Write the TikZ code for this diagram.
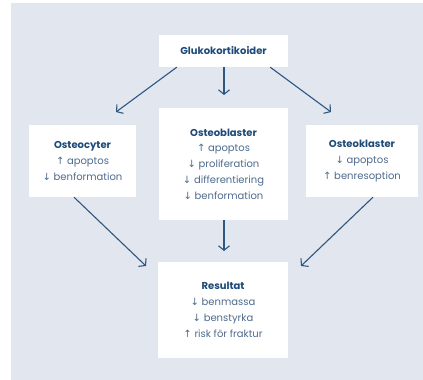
\documentclass[tikz,border=0pt]{standalone}
\usepackage{fontspec}
\setmainfont{Poppins}
\newfontfamily\symfont{DejaVu Sans}
\usetikzlibrary{arrows.meta}
\definecolor{bgc}{HTML}{E2E6EF}
\definecolor{navy}{HTML}{1D4A78}
\definecolor{bodyc}{HTML}{4F6B8E}
\definecolor{arrc}{HTML}{2D5682}
\newcommand{\upa}{{\symfont\char"2191}}
\newcommand{\dna}{{\symfont\char"2193}}
\tikzset{
  box/.style={fill=white, draw=none, inner sep=0pt, align=center, font=\fontsize{10}{15.8}\selectfont, text=bodyc},
  conn/.style={draw=arrc, line width=1.1pt, -{Straight Barb[length=4.5pt,width=11pt,line width=1.1pt]}}
}
\newcommand{\ttl}[1]{{\bfseries\color{navy}#1}}
\begin{document}
\begin{tikzpicture}[x=1pt,y=-1pt]
\useasboundingbox (0,0) rectangle (423,380);
\fill[white] (0,0) rectangle (423,380);
\fill[bgc] (11,3) rectangle (423,380);

\node[box, minimum width=129pt, minimum height=32pt] (G) at (223.5,51) {\ttl{Glukokortikoider}};
\node[box, minimum width=107pt, minimum height=72pt] (OC) at (82.5,161) {\ttl{Osteocyter}\\\upa\ apoptos\\\dna\ benformation};
\node[box, minimum width=129pt, minimum height=112pt] (OB) at (223.5,164) {\ttl{Osteoblaster}\\\upa\ apoptos\\\dna\ proliferation\\\dna\ differentiering\\\dna\ benformation};
\node[box, minimum width=112pt, minimum height=72pt] (OK) at (362,161) {\ttl{Osteoklaster}\\\dna\ apoptos\\\upa\ benresoption};
\node[box, minimum width=130pt, minimum height=96pt] (R) at (223,310) {\ttl{Resultat}\\\dna\ benmassa\\\dna\ benstyrka\\\upa\ risk för fraktur};

\coordinate (t1) at (116,112);
\coordinate (t2) at (224,95);
\coordinate (t3) at (331,112);
\coordinate (t4) at (146,266);
\coordinate (t5) at (224,251);
\coordinate (t6) at (301,266);

\draw[conn] ([xshift=18pt]G.south west) -- (t1);
\draw[conn] ([xshift=0.5pt]G.south) -- (t2);
\draw[conn] ([xshift=-18pt]G.south east) -- (t3);
\draw[conn] ([xshift=-8.5pt]OC.south) -- (t4);
\draw[conn] ([xshift=0.5pt]OB.south) -- (t5);
\draw[conn] ([xshift=11pt]OK.south) -- (t6);
\end{tikzpicture}
\end{document}
